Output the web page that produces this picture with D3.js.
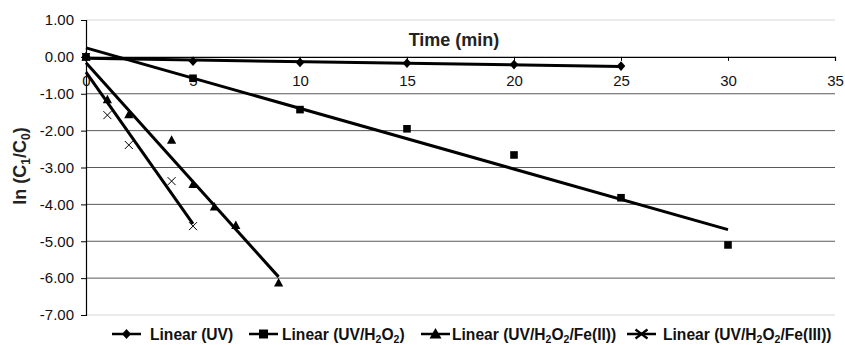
<!DOCTYPE html>
<html><head><meta charset="utf-8">
<script src="https://cdn.jsdelivr.net/npm/d3@7"></script>
<style>
html,body{margin:0;padding:0;background:#fff;}
svg{display:block;font-family:Arial,"Liberation Sans",sans-serif;}
</style></head>
<body><svg id="c" width="845" height="345"></svg>
<script>
// ---- data ----
const xTicks = [0, 5, 10, 15, 20, 25, 30, 35];
const yTicks = [1, 0, -1, -2, -3, -4, -5, -6, -7];
const timeUV = [0, 5, 10, 15, 20, 25];
const lnUV = [0, -0.12, -0.15, -0.17, -0.21, -0.25];
const timeH2O2 = [0, 5, 10, 15, 20, 25, 30];
const lnH2O2 = [0, -0.58, -1.43, -1.95, -2.66, -3.82, -5.10];
const timeFe2 = [0, 1, 2, 4, 5, 6, 7, 9];
const lnFe2 = [0, -1.16, -1.57, -2.26, -3.46, -4.07, -4.57, -6.13];
const timeFe3 = [0, 1, 2, 4, 5];
const lnFe3 = [0, -1.58, -2.39, -3.37, -4.59];
const seriesNames = [
  [{t:"Linear (UV)"}],
  [{t:"Linear (UV/H"},{t:"2",s:1},{t:"O"},{t:"2",s:1},{t:")"}],
  [{t:"Linear (UV/H"},{t:"2",s:1},{t:"O"},{t:"2",s:1},{t:"/Fe(II))"}],
  [{t:"Linear (UV/H"},{t:"2",s:1},{t:"O"},{t:"2",s:1},{t:"/Fe(III))"}]
];
const xTitle = "Time (min)";

// ---- chart ----
const svg = d3.select("#c");
const x = d3.scaleLinear().domain([0, 35]).range([86, 835]);
const y = d3.scaleLinear().domain([-7, 1]).range([315, 20]);

// gridlines
svg.append("g").selectAll("line").data(yTicks.filter(v => v !== 0)).join("line")
  .attr("x1", x(0)).attr("x2", x(35))
  .attr("y1", d => y(d)).attr("y2", d => y(d))
  .attr("stroke", d => (d === 1 || d === -7) ? "#d6d6d6" : "#5a5a5a")
  .attr("stroke-width", 1);

// y axis
const gy = svg.append("g").attr("transform", `translate(${x(0)},0)`)
  .call(d3.axisLeft(y).tickValues(yTicks).tickFormat(d => d.toFixed(2)).tickSize(5).tickPadding(7));
gy.select(".domain").attr("stroke", "#000").attr("stroke-width", 1.2);
gy.selectAll(".tick line").attr("stroke", "#000");
gy.selectAll("text").attr("font-size", 15).attr("fill", "#111").attr("font-family", "Arial,'Liberation Sans',sans-serif");

// x axis at y=0
const gx = svg.append("g").attr("transform", `translate(0,${y(0)})`)
  .call(d3.axisBottom(x).tickValues(xTicks).tickFormat(d => d).tickSize(4).tickPadding(14));
gx.select(".domain").attr("stroke", "#000").attr("stroke-width", 1.2);
gx.selectAll(".tick line").attr("stroke", "#000");
gx.selectAll("text").attr("font-size", 15).attr("fill", "#111").attr("font-family", "Arial,'Liberation Sans',sans-serif");

// axis titles
svg.append("text").attr("x", 454).attr("y", 46).attr("text-anchor", "middle")
  .attr("font-size", 18).attr("font-weight", "bold").attr("fill", "#222").text(xTitle);

const yt = svg.append("text").attr("transform", "translate(26,166) rotate(-90)")
  .attr("text-anchor", "middle").attr("font-size", 18).attr("font-weight", "bold").attr("fill", "#222");
yt.append("tspan").text("ln (C");
yt.append("tspan").attr("font-size", 12).attr("dy", 4).text("1");
yt.append("tspan").attr("dy", -4).text("/C");
yt.append("tspan").attr("font-size", 12).attr("dy", 4).text("0");
yt.append("tspan").attr("dy", -4).text(")");

// markers
const shapes = [
  "M0,-4.8L4.3,0L0,4.8L-4.3,0Z",
  "M-3.8,-3.8H3.8V3.8H-3.8Z",
  "M0,-5L4.6,3.5L-4.6,3.5Z",
  "M-4,-4L4,4M-4,4L4,-4"
];
const legShapes = [
  "M0,-5L4.5,0L0,5L-4.5,0Z",
  "M-4.5,-4.5H4.5V4.5H-4.5Z",
  "M0,-6L6,4.5L-6,4.5Z",
  "M-6,-4.5L6,4.5M-6,4.5L6,-4.5M-6,0H6"
];
const series = [
  {t: timeUV, v: lnUV},
  {t: timeH2O2, v: lnH2O2},
  {t: timeFe2, v: lnFe2},
  {t: timeFe3, v: lnFe3}
];

function fit(ts, vs) {
  const mt = d3.mean(ts), mv = d3.mean(vs);
  let sxy = 0, sxx = 0;
  ts.forEach((t, i) => { sxy += (t - mt) * (vs[i] - mv); sxx += (t - mt) * (t - mt); });
  const b = sxy / sxx, a = mv - b * mt;
  return t => a + b * t;
}

const gm = svg.append("g");
series.forEach((s, k) => {
  const pts = s.t.map((t, i) => [t, s.v[i]]);
  gm.append("g").selectAll("path").data(pts).join("path")
    .attr("transform", d => `translate(${x(d[0])},${y(d[1])})`)
    .attr("d", shapes[k])
    .attr("fill", k === 3 ? "none" : "#000")
    .attr("stroke", "#000").attr("stroke-width", k === 3 ? 1 : 0);
});
const gl = svg.append("g");
series.forEach((s, k) => {
  const f = fit(s.t, s.v);
  const ext = d3.extent(s.t);
  gl.append("line")
    .attr("x1", x(ext[0])).attr("y1", y(f(ext[0])))
    .attr("x2", x(ext[1])).attr("y2", y(f(ext[1])))
    .attr("stroke", "#000").attr("stroke-width", 3);
});

// legend
const legSym = [112, 249, 421, 627];
const legTxt = [150, 282, 452, 663];
const leg = svg.append("g").attr("transform", "translate(0,334)");
seriesNames.forEach((segs, k) => {
  const it = leg.append("g");
  it.append("line").attr("x1", legSym[k]).attr("x2", legSym[k] + 29).attr("y1", 0).attr("y2", 0)
    .attr("stroke", "#000").attr("stroke-width", 2.5);
  it.append("path").attr("transform", `translate(${legSym[k] + 14.5},0)`).attr("d", legShapes[k])
    .attr("fill", "#000").attr("stroke", "#000").attr("stroke-width", k === 3 ? 2.2 : 0);
  const tx = it.append("text").attr("x", legTxt[k]).attr("y", 5.5)
    .attr("font-size", 15.6).attr("font-weight", "bold").attr("fill", "#111");
  segs.forEach((sg, i) => {
    const ts = tx.append("tspan").text(sg.t);
    if (sg.s) ts.attr("font-size", 10.5).attr("dy", 3);
    else if (i > 0) ts.attr("dy", -3);
  });
});
</script></body></html>
